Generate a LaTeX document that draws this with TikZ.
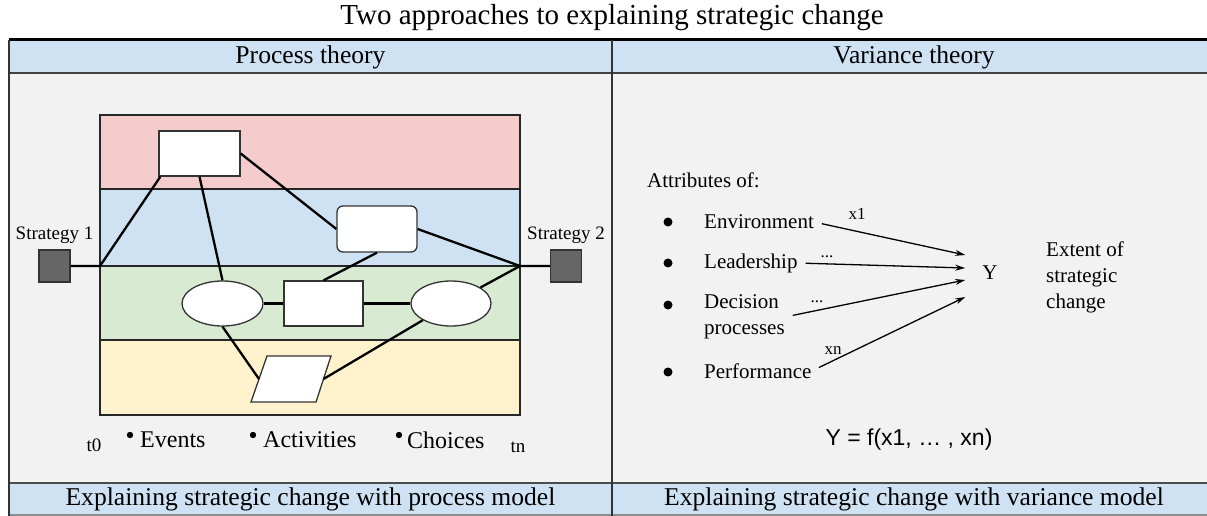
\documentclass[tikz,border=0pt]{standalone}
\usepackage{fontspec}
\setmainfont{Liberation Serif}
\setsansfont{Liberation Sans}
\usetikzlibrary{shapes.geometric,arrows.meta,positioning,calc}
\definecolor{hdrblue}{HTML}{CFE2F3}
\definecolor{bodygray}{HTML}{F2F2F2}
\definecolor{pinkband}{HTML}{F4CCCC}
\definecolor{blueband}{HTML}{CFE2F3}
\definecolor{greenband}{HTML}{D9EAD3}
\definecolor{yellowband}{HTML}{FFF2CC}
\definecolor{stratgray}{HTML}{666666}
\begin{document}
\begin{tikzpicture}[x=1pt,y=-1pt,
    band/.style={draw=black!85,line width=1.5pt},
    shp/.style={draw=black!80,line width=1.3pt,fill=white,inner sep=0pt},
    link/.style={line width=2.3pt},
    strat/.style={draw=black!80,line width=1.2pt,fill=stratgray,minimum width=31pt,minimum height=32pt,inner sep=0pt},
    hdr/.style={font=\fontsize{25.6}{30}\selectfont,inner sep=0pt},
    lbl/.style={font=\fontsize{19}{22}\selectfont,inner sep=0pt},
    evt/.style={font=\fontsize{24}{28}\selectfont,inner sep=0pt,anchor=west},
    attr/.style={font=\fontsize{21}{26}\selectfont,inner sep=0pt,anchor=west,align=left},
    small/.style={font=\fontsize{17}{20}\selectfont,inner sep=0pt},
    arr/.style={-{Stealth[length=10pt,width=6pt]},line width=1.3pt,shorten <=8pt}]
    \def\bl{100}
    \def\br{520}
    \def\midx{612}

    \useasboundingbox (0,0) rectangle (1207,516);

% tablica
    \fill[bodygray] (9,73) rectangle (1207,483);
    \fill[hdrblue] (9,40) rectangle (1207,73);
    \fill[hdrblue] (9,483) rectangle (1207,516);
    \draw[line width=3pt] (9,40) -- (1207,40);
    \draw[line width=1.8pt,black!75] (9,73) -- (1207,73);
    \draw[line width=1.5pt,black!70] (9,483) -- (1207,483);
    \draw[line width=1.2pt,black!45] (9,515) -- (1207,515);
    \draw[line width=2pt,black!80] (9,40) -- (9,516);
    \draw[line width=2pt,black!80] (\midx,40) -- (\midx,516);

    \node[font=\fontsize{29}{34}\selectfont,inner sep=0pt] (title) at (\midx,18) {Two approaches to explaining strategic change};
    \node[hdr] (proc) at (310.5,57) {Process theory};
    \node[hdr] (var) at (914,57) {Variance theory};
    \node[hdr] (procfoot) at (310.5,499) {Explaining strategic change with process model};
    \node[hdr] (varfoot) at (914,499) {Explaining strategic change with variance model};

% 1-in gcagir
    \draw[band,fill=pinkband] (\bl,115) rectangle (\br,189);
    \draw[band,fill=blueband] (\bl,189) rectangle (\br,266);
    \draw[band,fill=greenband] (\bl,266) rectangle (\br,340);
    \draw[band,fill=yellowband] (\bl,340) rectangle (\br,415);

    \node[shp,minimum width=81pt,minimum height=45pt] (verin) at (199.5,153.5) {};
    \node[shp,rounded corners=6pt,minimum width=80pt,minimum height=46pt] (kapuyt) at (377,229) {};
    \node[shp,ellipse,minimum width=81pt,minimum height=45pt] (lell) at (222.5,303.5) {};
    \node[shp,minimum width=79pt,minimum height=45pt] (mijin) at (323.5,303.5) {};
    \node[shp,ellipse,minimum width=80pt,minimum height=45pt] (rell) at (451,303.5) {};
    \coordinate (ptl) at (267,356);
    \coordinate (ptr) at (331,356);
    \coordinate (pbr) at (316,402);
    \coordinate (pbl) at (251,402);
    \draw[shp] (ptl) -- (ptr) -- (pbr) -- (pbl) -- cycle;

    \node[strat] (s1) at (54.5,266) {};
    \node[strat] (s2) at (566,266) {};
    \node[lbl,above=6pt of s1] (s1lbl) {Strategy 1};
    \node[lbl,above=6pt of s2] (s2lbl) {Strategy 2};
    \coordinate (j1) at (\bl,266);
    \coordinate (j2) at (\br,266);

    % links
    \draw[link] (s1) -- (j1) -- ([xshift=2pt]verin.south west);
    \draw[link] (verin.south) -- (lell.north);
    \draw[link] (verin.east) -- (kapuyt.west);
    \draw[link] (kapuyt.east) -- (j2) -- (s2);
    \draw[link] (kapuyt.south) -- (mijin.north);
    \draw[link] (lell.east) -- (mijin.west);
    \draw[link] (mijin.east) -- (rell.west);
    \draw[link] (rell) -- (j2);
    \draw[link] (lell.south) -- ($(ptl)!.5!(pbl)$);
    \draw[link] (rell) -- ($(ptr)!.5!(pbr)$);

    \node[lbl] (t0) at (94,445) {t0};
    \node[lbl] (tn) at (518,447) {tn};
    \fill (130,435) circle (3.2);
    \node[evt] (events) at (140,440) {Events};
    \fill (253,435) circle (3.2);
    \node[evt] (activ) at (263,440) {Activities};
    \fill (399,435) circle (3.2);
    \node[evt] (choices) at (407,440) {Choices};

% 2-rd gcagir
    \node[attr] (attrof) at (647,180) {Attributes of:};
    \fill (668,222) circle (4.5);
    \node[attr] (env) at (704,222) {Environment};
    \fill (668,263) circle (4.5);
    \node[attr] (lead) at (704,263) {Leadership};
    \fill (668,305) circle (4.5);
    \node[attr] (dec) at (704,317) {Decision\\processes};
    \fill (668,372) circle (4.5);
    \node[attr] (perf) at (704,371) {Performance};

    \node[attr,anchor=center] (Y) at (990,273) {Y};
    \node[attr] (extent) at (1046,277) {Extent of\\strategic\\change};

    % arrows
    \draw[arr] (env.east) -- ($(Y.west)+(-17,-18)$);
    \draw[arr] (lead.east) -- ($(Y.west)+(-17,-5)$);
    \draw[arr] (dec.east) -- ($(Y.west)+(-17,7)$);
    \draw[arr] (perf.east) -- ($(Y.west)+(-17,24)$);
    \node[small] (x1) at (857,214) {x1};
    \node[small] (dots1) at (827,257) {...};
    \node[small] (dots2) at (817,302) {...};
    \node[small] (xn) at (833,350) {xn};

    \node[font=\sffamily\fontsize{23}{27}\selectfont,inner sep=0pt] (fx) at (909,440) {Y = f(x1, … , xn)};
\end{tikzpicture}
\end{document}
